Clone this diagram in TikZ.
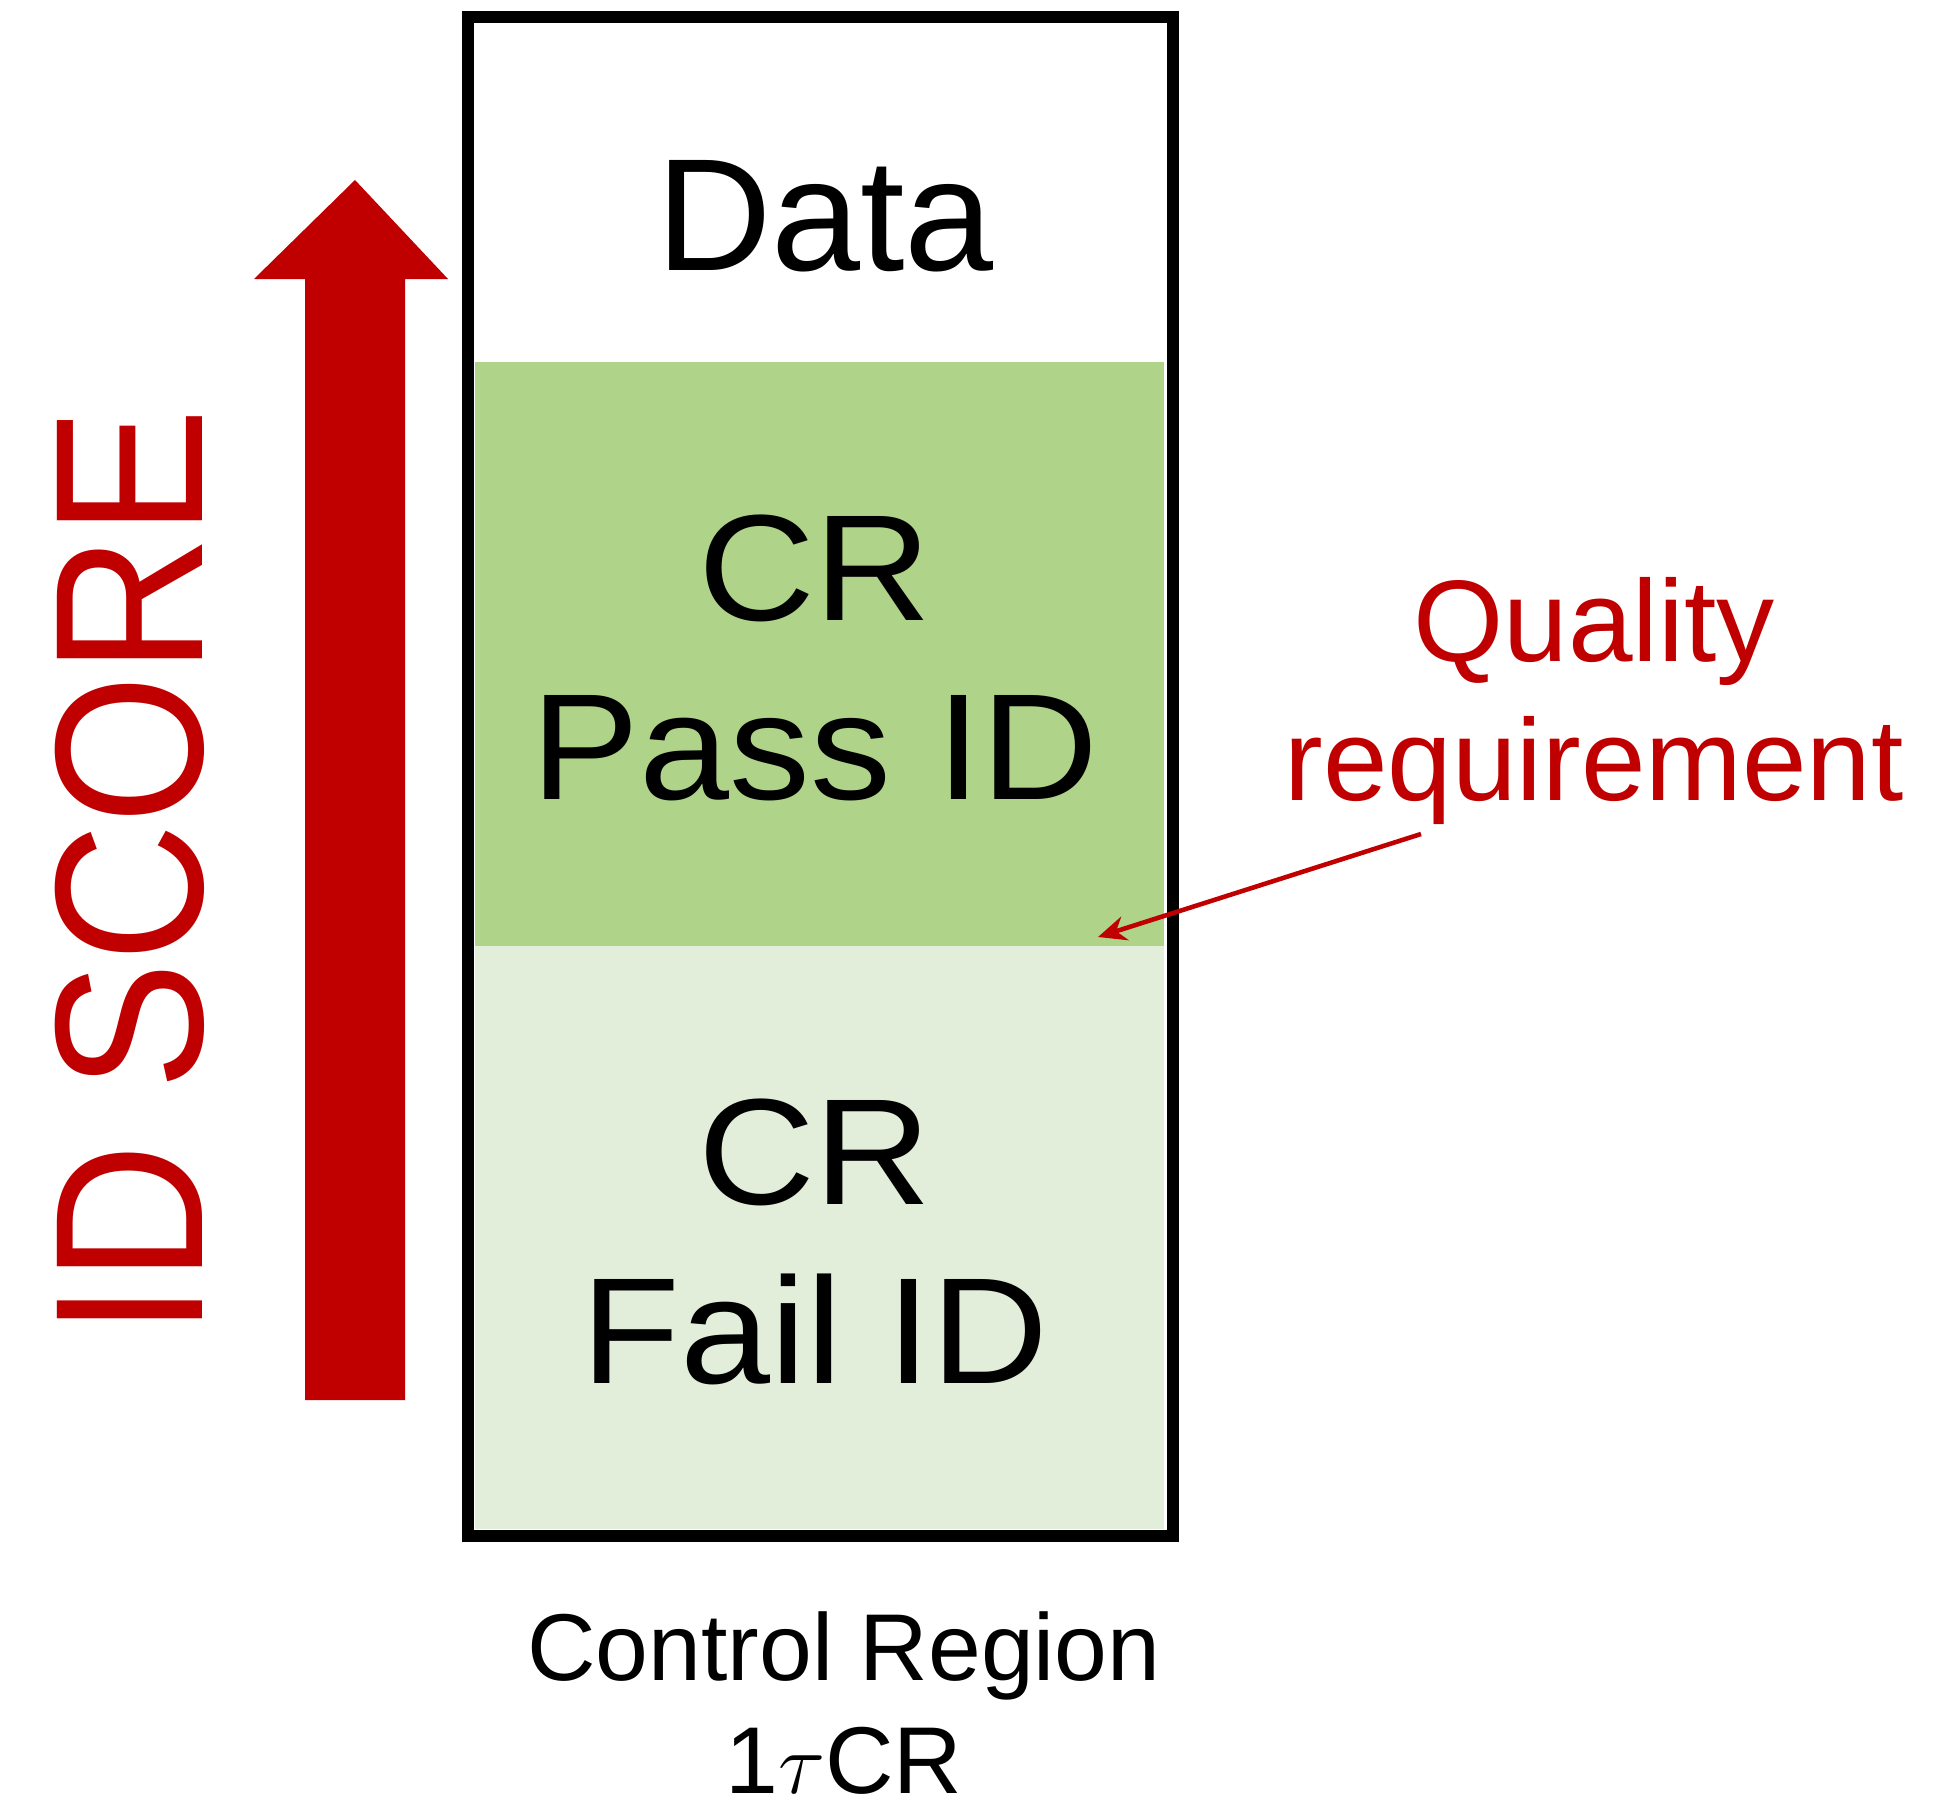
\documentclass[tikz,border=0pt]{standalone}
\usepackage{fontspec}
\setmainfont{Liberation Sans}
\newfontfamily\widesans[FakeStretch=1.07]{Liberation Sans}
\newfontfamily\narrowsans[FakeStretch=0.91]{Liberation Sans}
\usetikzlibrary{arrows.meta}
\definecolor{idred}{HTML}{C00000}
\definecolor{passgreen}{HTML}{B0D38A}
\definecolor{failgreen}{HTML}{E2EED9}
\begin{document}
\begin{tikzpicture}[x=0.01cm,y=-0.01cm,
  region/.style={inner sep=0pt,align=center,font=\widesans\fontsize{43}{51}\selectfont},
  redlbl/.style={inner sep=0pt,align=center,text=idred}]
\useasboundingbox (0,0) rectangle (1946,1800);
% regions of the control region
\fill[passgreen] (475,362) rectangle (1164,946);
\fill[failgreen] (475,946) rectangle (1164,1529);
\draw[line width=3.4pt] (468,17) rectangle (1173,1536);
\node[region,font=\fontsize{45.5}{51}\selectfont,anchor=base] (data) at (825,271) {Data};
\node[region] (pass) at (815,658) {CR\\Pass ID};
\node[region] (fail) at (815,1242) {CR\\Fail ID};
\node[region,font=\fontsize{27}{32}\selectfont,anchor=north] (cr) at (844,1611) {Control Region\\1$\tau$CR};
% score arrow
\fill[idred] (355,180) -- (448,279) -- (405,279) -- (405,1400) -- (305,1400) -- (305,279) -- (254,279) -- cycle;
\node[redlbl,rotate=90,font=\narrowsans\fontsize{60}{64}\selectfont] (score) at (130,872) {ID SCORE};
\node[redlbl,anchor=north,font=\fontsize{33}{39.5}\selectfont] (qual) at (1594,577) {Quality\\requirement};
\coordinate (qfrom) at (1421,834);
\coordinate (qto) at (1098,937);
\draw[idred,line width=1.3pt,-{Stealth[length=8pt,width=7pt]}] (qfrom) -- (qto);
\end{tikzpicture}
\end{document}
